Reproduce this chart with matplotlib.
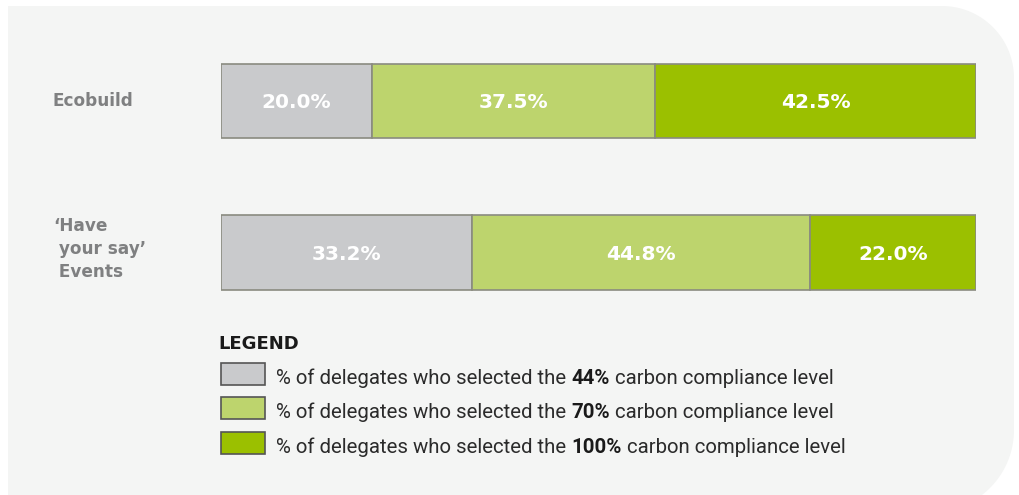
import numpy as np
import matplotlib
matplotlib.use("Agg")
import matplotlib.pyplot as plt
from matplotlib.patches import Polygon, Rectangle

# ---- data ----
categories = ["Ecobuild", "\u2018Have\n your say\u2019\n Events"]
pct_44 = [20.0, 33.2]
pct_70 = [37.5, 44.8]
pct_100 = [42.5, 22.0]
legend_levels = ["44%", "70%", "100%"]

colors = ["#c9cacc", "#bdd46d", "#9bc000"]
edge = "#8a8b80"
bg = "#f4f5f4"

W, H = 1019, 495
fig = plt.figure(figsize=(W / 100, H / 100), dpi=100)
fig.patch.set_facecolor("white")

# ---- background panel with rounded right corners (pixel geometry -> figure fraction) ----
def arc(cx, cy, r, a0, a1, n=40):
    t = np.radians(np.linspace(a0, a1, n))
    return [(cx + r * np.cos(t_), cy + r * np.sin(t_)) for t_ in t]

left, top, right, bottom = 8, 6, 1014, 512
r_tr, r_br = 72, 82
pts = [(left, top)]
pts += arc(right - r_tr, top + r_tr, r_tr, -90, 0)
pts += arc(right - r_br, bottom - r_br, r_br, 0, 90)
pts += [(left, bottom)]
pts_f = [(x / W, 1 - y / H) for x, y in pts]
fig.patches.append(Polygon(pts_f, closed=True, transform=fig.transFigure,
                           facecolor=bg, edgecolor="none", zorder=-5))

# ---- bar axes ----
x0, x1 = 221, 976
y_c0, y_c1 = 101, 252.5
unit = y_c1 - y_c0
ax = fig.add_axes([x0 / W, 0, (x1 - x0) / W, 1], zorder=2)
ax.set_xlim(0, 100)
ax.set_ylim((H - y_c0) / unit, -y_c0 / unit)
ax.axis("off")
ax.patch.set_alpha(0)

ypos = np.arange(len(categories))
bar_h = 74.5 / unit
lefts = np.zeros(len(categories))
for vals, c in zip([pct_44, pct_70, pct_100], colors):
    ax.barh(ypos, vals, left=lefts, height=bar_h, color=c,
            edgecolor=edge, linewidth=1.2, zorder=2)
    for yy, l, v in zip(ypos, lefts, vals):
        ax.text(l + v / 2, yy + 1.5 / unit, f"{v:.1f}%", ha="center", va="center",
                color="white", fontsize=14.5, fontweight="bold",
                family="DejaVu Sans", zorder=3)
    lefts = lefts + np.array(vals)

# category labels
label_dy = [0, -3.5]
for yy, lab, dy in zip(ypos, categories, label_dy):
    ax.text(-168 / (x1 - x0) * 100, yy + dy / unit, lab, ha="left", va="center",
            color="#7f8081", fontsize=12.2, fontweight="bold",
            family="DejaVu Sans", linespacing=1.38, clip_on=False)

# ---- legend ----
ax.text(-3 / (x1 - x0) * 100, (344 - y_c0) / unit, "LEGEND", ha="left", va="center",
        fontsize=13, fontweight="bold", color="#1a1a1a", family="DejaVu Sans",
        clip_on=False)
box_y = [363, 397, 432]
fs = 14.7
for by, lvl, c in zip(box_y, legend_levels, colors):
    fig.patches.append(Rectangle((221 / W, 1 - (by + 22) / H), 44 / W, 22 / H,
                                 transform=fig.transFigure, facecolor=c,
                                 edgecolor="#555555", linewidth=1.2, zorder=1))
    yc = (by + 15 - y_c0) / unit
    t1 = ax.text(55 / (x1 - x0) * 100, yc, "% of delegates who selected the ",
                 ha="left", va="center", fontsize=fs, color="#2b2b2b",
                 family="Roboto", clip_on=False)
    a2 = ax.annotate(lvl, xy=(1, 0), xycoords=t1, va="bottom", ha="left",
                     fontsize=fs, fontweight="bold", color="#1a1a1a",
                     family="Roboto", annotation_clip=False)
    ax.annotate(" carbon compliance level", xy=(1, 0), xycoords=a2,
                va="bottom", ha="left", fontsize=fs, color="#2b2b2b",
                family="Roboto", annotation_clip=False)

fig.savefig("out.png", dpi=100, facecolor="white")
